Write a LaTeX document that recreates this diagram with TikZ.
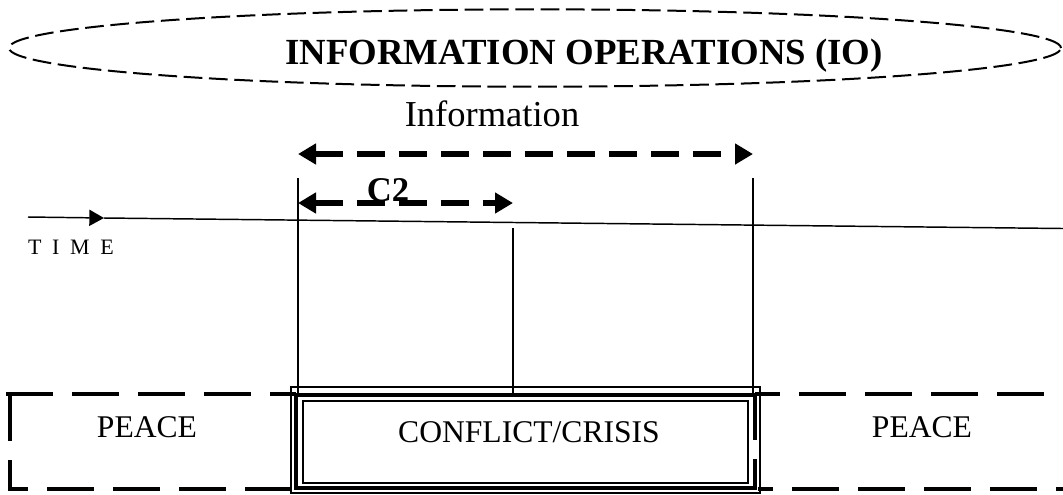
\documentclass[tikz,border=0pt]{standalone}
\usepackage{fontspec}
\setmainfont{Liberation Serif}
\usetikzlibrary{arrows.meta}
\begin{document}
\begin{tikzpicture}[x=0.75pt,y=-0.75pt,
  every node/.style={inner sep=0pt, outer sep=0pt},
  ovalline/.style={line width=1.5pt, dash pattern=on 14pt off 5pt},
  spanarrow/.style={line width=5.2pt, dash pattern=on 21pt off 10.5pt,
    {Triangle[length=13.5pt,width=15pt]}-{Triangle[length=13.5pt,width=15pt]}},
  thinline/.style={line width=1.1pt},
  phaseline/.style={line width=3pt, dash pattern=on 35.25pt off 14.25pt},
  label/.style={font=\fontsize{23.7pt}{26pt}\selectfont, anchor=base}]

\useasboundingbox (0,0) rectangle (1063,494);

% enclosing oval and heading
\draw[ovalline] (535,48) ellipse [x radius=394.5pt, y radius=29pt];
\node[anchor=base, font=\fontsize{27.6pt}{30pt}\selectfont\bfseries] (io) at (584,64)
  {INFORMATION OPERATIONS (IO)};

% span labels
\node[anchor=base, font=\fontsize{27.4pt}{30pt}\selectfont] (infolbl) at (492,126) {Information};
\node[anchor=base, font=\fontsize{26pt}{28pt}\selectfont\bfseries] (c2lbl) at (388,201) {C2};

% span end points
\coordinate (iL) at (298,154);
\coordinate (iR) at (753,154);
\coordinate (cL) at (298,203);
\coordinate (cR) at (513,203);
\draw[spanarrow] (iL) -- (iR);
\draw[spanarrow] (cL) -- (cR);

% time axis
\coordinate (t0) at (28,217);
\coordinate (tm) at (104,218);
\coordinate (t1) at (1063,228.5);
\draw[thinline, -{Triangle[length=11pt,width=12pt]}] (t0) -- (tm);
\draw[thinline] (tm) -- (t1);
\node[anchor=base west, font=\fontsize{16.5pt}{18pt}\selectfont] (time) at (28,254)
  {T\hspace{8pt}I\hspace{8pt}M\hspace{8pt}E};

% phase boundaries
\coordinate (a1) at (298,178);
\coordinate (a2) at (298,395);
\coordinate (b1) at (753,178);
\coordinate (b2) at (753,395);
\coordinate (m1) at (513,228);
\coordinate (m2) at (513,395);
\draw[thinline] (a1) -- (a2);
\draw[thinline] (b1) -- (b2);
\draw[thinline] (m1) -- (m2);

% conflict phase (triple border)
\draw[line width=1.1pt] (291,387) rectangle (760,493);
\draw[line width=3.4pt] (755,395) -- (296,395) -- (296,488) -- (755,488);
\draw[line width=1.1pt] (303,401) rectangle (748,483);
\node[label] (conflict) at (529,442) {CONFLICT/CRISIS};

% peace phases (dashed)
\draw[phaseline] (6,394) -- (296,394);
\draw[phaseline, dash phase=20.25pt] (8,489) -- (296,489);
\draw[phaseline] (10,394) -- (10,489);
\draw[phaseline, dash phase=16.5pt] (755,394) -- (1063,394);
\draw[phaseline, dash phase=24pt] (758,489) -- (1063,489);
\draw[phaseline] (755,393) -- (755,490);
\node[label] (peace1) at (147,437) {PEACE};
\node[label] (peace2) at (922,437) {PEACE};

\end{tikzpicture}
\end{document}
